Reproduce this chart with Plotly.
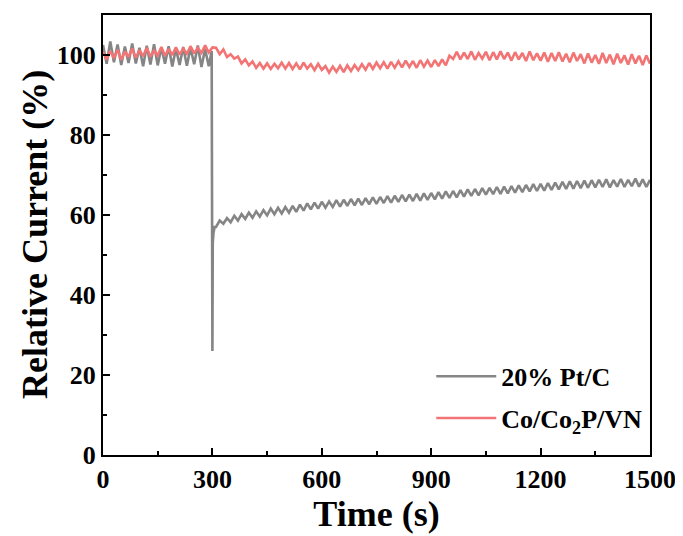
import plotly.graph_objects as go

# 20% Pt/C, sampled every 10 s, with the dip around 300 s
pt_time = list(range(0, 300, 10)) + [298, 300, 301, 303, 306] + list(range(310, 1501, 10))
pt_current = [
    102.5, 97.8, 103.4, 98.2, 102.6, 97.5, 102.1, 98.0, 102.9, 97.9,
    101.8, 97.2, 102.3, 97.6, 102.7, 97.4, 101.9, 97.8, 102.2, 97.1,
    101.6, 97.5, 102.0, 97.3, 101.8, 97.7, 102.4, 97.0, 101.5, 97.2,
    101.0, 26.0, 53.0, 55.5, 57.0,
    57.0, 58.6, 57.8, 59.2, 58.2, 59.8, 58.6, 60.2, 59.0, 60.6,
    59.3, 60.9, 59.6, 61.2, 59.9, 61.6, 60.2, 61.8, 60.4, 62.0,
    60.6, 62.3, 60.8, 62.6, 61.1, 62.9, 61.4, 63.1, 61.6, 63.3,
    61.8, 63.4, 62.0, 63.7, 62.1, 63.8, 62.3, 64.0, 62.4, 64.1,
    62.5, 64.2, 62.7, 64.4, 62.8, 64.5, 63.0, 64.7, 63.1, 64.8,
    63.3, 65.0, 63.4, 65.1, 63.5, 65.3, 63.6, 65.4, 63.8, 65.5,
    63.9, 65.7, 64.1, 65.9, 64.3, 66.0, 64.4, 66.2, 64.6, 66.4,
    64.8, 66.5, 64.9, 66.7, 65.1, 66.8, 65.2, 67.0, 65.3, 67.1,
    65.4, 67.2, 65.6, 67.4, 65.7, 67.5, 65.9, 67.7, 66.0, 67.8,
    66.1, 68.0, 66.3, 68.1, 66.4, 68.3, 66.5, 68.4, 66.6, 68.5,
    66.7, 68.6, 66.8, 68.7, 66.9, 68.8, 67.0, 68.9, 66.9, 68.7,
    67.1, 69.0, 67.0, 68.8, 67.2, 69.1, 67.1, 68.9, 67.0, 68.8,
]

# Co/Co2P/VN, sampled every 10 s
cp_time = list(range(0, 1501, 10))
cp_current = [
    100.8, 98.9, 101.0, 99.2, 101.3, 98.8, 100.9, 99.5, 101.6, 99.3,
    101.2, 99.7, 101.8, 99.6, 101.1, 99.9, 102.0, 99.8, 101.5, 100.0,
    101.9, 100.1, 101.6, 100.3, 102.2, 100.4, 101.8, 100.5, 102.4, 100.6,
    101.9,
    101.8, 100.2, 101.4, 99.5, 100.2, 99.1, 99.6, 97.9, 98.9, 97.4,
    98.4, 96.8, 98.0, 96.6, 97.9, 96.5, 97.8, 96.7, 98.1, 96.6,
    98.0, 96.5, 97.9, 96.4, 98.1, 96.6, 97.7, 96.2, 97.8, 96.3,
    97.2, 95.6, 97.1, 95.8, 97.3, 95.7, 97.4, 96.0, 97.5, 96.2,
    97.7, 96.3, 98.0, 96.5, 98.1, 96.7, 98.2, 96.6, 98.3, 96.8,
    98.4, 96.9, 98.6, 97.0, 98.5, 96.8, 98.7, 97.1, 98.6, 97.0,
    98.7, 97.2, 98.9, 97.4, 99.8, 99.0, 100.8, 98.9, 100.6, 99.0,
    100.9, 98.8, 100.5, 99.1, 100.8, 98.7, 100.7, 98.9, 100.9, 99.0,
    100.6, 98.6, 100.7, 98.9, 100.5, 98.5, 100.9, 98.7, 100.4, 98.6,
    100.6, 98.3, 100.5, 98.5, 100.7, 98.4, 100.3, 98.2, 100.6, 98.5,
    100.2, 97.9, 100.4, 98.1, 100.0, 97.8, 100.5, 98.0, 100.1, 97.7,
    100.3, 98.0, 99.9, 97.6, 100.2, 97.9, 99.8, 97.5, 99.9, 97.8,
]

x_ticks = [0, 300, 600, 900, 1200, 1500]
y_ticks = [0, 20, 40, 60, 80, 100]

serif = "Liberation Serif, Times New Roman, serif"

fig = go.Figure()
fig.add_trace(go.Scatter(x=pt_time, y=pt_current, mode="lines", name="20% Pt/C",
                         legendgroup="pt", line=dict(color="#858585", width=2.6)))
fig.add_trace(go.Scatter(x=cp_time, y=cp_current, mode="lines", name="Co/Co<sub>2</sub>P/VN",
                         legendgroup="cp", line=dict(color="#F27474", width=2.6)))

axis_style = dict(
    showline=True, mirror=True, linecolor="black", linewidth=2,
    ticks="inside", ticklen=7, tickwidth=2, tickcolor="black",
    showgrid=False, zeroline=False,
    tickfont=dict(family=serif, size=26, color="black", weight="bold"),
)

# the page body adds an 8 px offset, so margins are set for the frame
# to land at x 103-650, y 13-455 on screen
fig.update_layout(
    width=683,
    height=536,
    margin=dict(l=95, r=41, t=5, b=89),
    plot_bgcolor="white",
    paper_bgcolor="white",
    xaxis=dict(
        range=[0, 1500], tickvals=x_ticks,
        minor=dict(dtick=150, ticks="inside", ticklen=4, tickwidth=2, tickcolor="black"),
        title=dict(text="Time (s)", standoff=0,
                   font=dict(family=serif, size=36, color="black", weight="bold")),
        **axis_style,
    ),
    yaxis=dict(
        range=[0, 110], tickvals=y_ticks,
        minor=dict(dtick=10, ticks="inside", ticklen=4, tickwidth=2, tickcolor="black"),
        **axis_style,
    ),
    annotations=[
        dict(text="Relative Current (%)", textangle=-90,
             x=0, y=0.5, xref="paper", yref="paper",
             xanchor="center", yanchor="middle", xshift=-68, showarrow=False,
             font=dict(family=serif, size=36, color="black", weight="bold")),
    ],
    legend=dict(
        x=0.995, y=0.03, xanchor="right", yanchor="bottom",
        bgcolor="rgba(0,0,0,0)",
        font=dict(family=serif, size=26, color="black", weight="bold"),
        itemwidth=60, tracegroupgap=5, traceorder="grouped",
    ),
)

fig.write_html("out.html")
